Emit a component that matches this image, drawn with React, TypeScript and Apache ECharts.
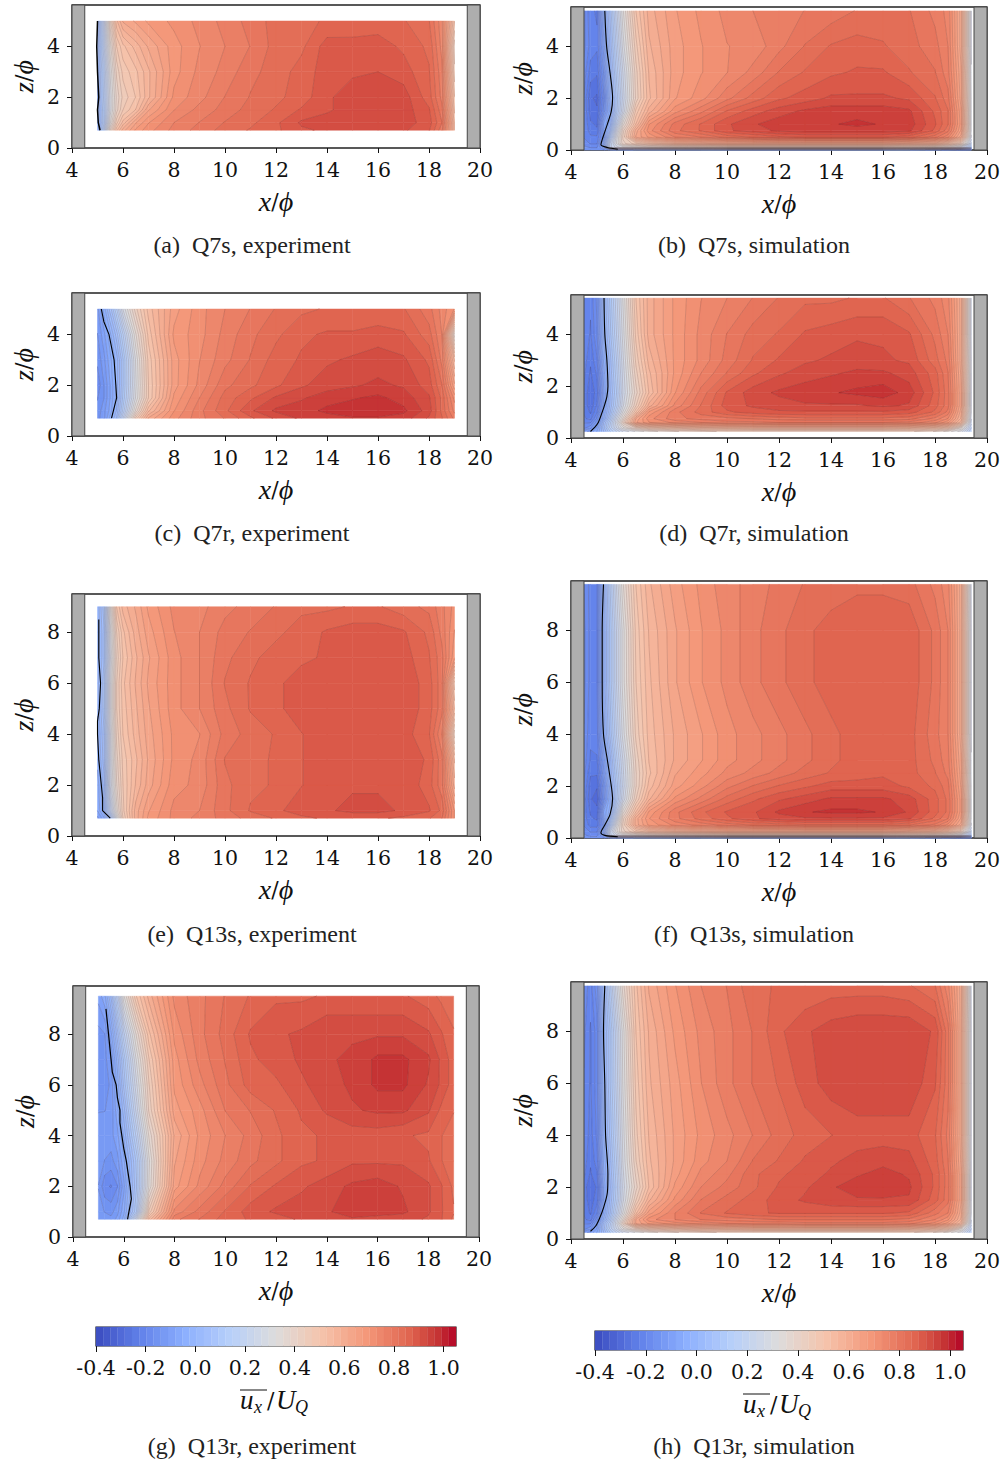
import React, { useEffect, useRef } from "react";
import * as echarts from "echarts";

// x stations of the measured / simulated fields
const expX = [5,5.25,5.5,5.75,6,6.5,7,8,9,10,11,12,13,14,15,16,17,18,18.5,19];
const simX = [4.5,4.75,5,5.25,5.5,5.75,6,6.5,7,8,9,10,11,12,13,14,15,16,17,18,18.5,19,19.4];

const q7sExpZ = [0.7,1,1.5,2,3,4,5];
const q7sExp = [
[-2,15,38,52,60,68,72,77,80,83,85,87,90,91,93,93,91,88,80,55],
[-2,12,32,46,54,64,70,76,79,82,84,87,91,92,93,93,92,89,82,55],
[-1,12,28,40,47,53,64,73,77,80,83,85,88,90,92,93,92,88,80,52],
[0,13,28,39,45,50,58,71,75,79,82,84,86,90,92,92.5,92,86,78,50],
[0,14,30,42,48,52,58,69,74,77,81,83,86,89,90,90.5,89,85,77,45],
[1,17,34,47,52,57,62,69,73,76,79,83,84,89,88.5,89,87,84,75,42],
[0,19,40,55,62,65,68,71,74,77,80,83,84,85,86,86,85,82,74,50],
];
const q7rExpZ = [0.7,1,1.5,2,3,4,5];
const q7rExp = [
[-15,-12,-4,4,18,45,62,72,78,82,87,91,94,95,96,96,95,90,85,78],
[-16,-12,-7,1,13,36,55,70,78,84,90,94,95,97,98,98,97,92,84,75],
[-17,-14,-8,-1,10,30,47,68,76,83,87,91,93,95,96,97,95,91,84,72],
[-19,-14,-8,-1,9,29,47,66,74,81,84,87,90,92,93,94,93,89,82,65],
[-16,-12,-6,-1,9,30,48,66,73,78,82,86,88,90,91,92,91,87,78,55],
[-14,-9,-3,5,15,35,51,68,72,77,81,84,87,88,88,89,88,83,76,36],
[-12,-4,5,15,27,43,54,66,72,76,79,82,84,85,85,85,85,80,75,70],
];
const q13sExpZ = [0.7,1,2,3,4,5,6,7,8,9];
const q13sExp = [
[-12,-6,8,28,44,60,68,74,77,80,83,85,87,88,88,88,87,85,82,70],
[-8,0,18,34,46,60,67,74,76,81,85,87,89,90,91.5,91.5,90,88,84,70],
[-7,2,24,38,47,56,63,72,74,81,84,85,87.5,89,90,90,90,86,80,60],
[-4,5,25,40,48,55,62,71,74,82,84,85,87.5,89,90,90,90,87,80,55],
[-3,6,26,42,50,57,63,71,73,80,83,85,87.5,89,90,90,89,85,76,42],
[-2,8,28,44,51,58,64,72,76,81,85,87,89,90,90,90,90,86,80,55],
[-1,8,28,44,52,59,65,72,76,82,85,87,89,90,90,90,90,86,80,48],
[-2,6,26,42,50,58,64,72,76,81,84,86,87,88,90,90,89,85,80,68],
[-2,6,28,44,52,60,66,73,76,80,82,84,86,88,89,89,88,84,78,70],
[-2,8,32,50,57,62,68,74,75,78,80,82,84,84,85,85,83,81,77,72],
];
const q13rExpZ = [0.7,1,2,3,4,5,6,7,8,9.5];
const q13rExp = [
[-12,-13,-13,-10,-4,24,54,78,82,86,88,89,91,92,93,92,92,90,88,84],
[-13,-14,-15,-12,-6,12,45,74,80,85,89,91,92,93,95,95,94,91,88,85],
[-14,-19,-20,-17,-9,9,33,66,74,80,85,88,90,92,94,95,93,91,88,84],
[-12,-14,-15,-12,-6,10,32,64,72,77,81,84,87,88,90,90,90,88,85,82],
[-13,-12,-12,-9,-2,16,36,62,71,76,80,84,87,88,89,89,88,87,85,82],
[-14,-14,-13,-6,2,22,42,66,72,79,82,85,88,91,93,94,94,91,87,85],
[-15,-16,-13,-4,7,26,44,68,75,81,86,87,90,92,94,97,97,93,90,86],
[-15,-15,-11,-1,10,30,47,69,77,82,87,89,91,93,94,97,97,94,90,86],
[-15,-14,-6,5,17,36,52,71,78,83,88,90,91,93,93,93,93,91,88,85],
[-10,-6,4,17,32,50,60,74,78,82,85,87,87,88,88,88,88,86,84,83],
];
const q7sSimZ = [0,0.1,0.25,0.5,0.75,1,1.5,2,3,4,5.37];
const q7sSim = [
[-15,-15,-15,-15,-10,-8,-6,-5,-5,-5,-5,-5,-5,-5,-5,-5,-5,-5,-5,-10,-12,-15,-15],
[-16,-17,-17,-10,20,25,28,30,32,34,35,36,36,36,36,36,36,36,35,33,30,24,10],
[-18,-20,-20,-5,18,30,40,46,50,56,58,60,60,60,60,60,60,60,58,56,50,42,20],
[-20,-22,-22,-12,10,28,42,62,68,76,79,83,85,87,88,88,88,88,86,80,74,60,26],
[-20,-24,-25,-10,4,24,40,60,72,81,85,90,92,94,95,95,95,95,94,87,80,64,28],
[-20,-25,-26,-8,-1,18,34,53,70,80,85,90,93,95,96,96,97,96,95,88,82,66,28],
[-20,-27,-28,-16,-4,11,24,48,60,72,78,85,89,92,94,95,95,95,94,87,82,65,28],
[-20,-28,-29,-18,-1,10,22,42,55,67,72,78,83,87,89,91,91,91,90,85,80,63,28],
[-18,-24,-25,-14,1,13,24,43,56,66,70,73,77,82,85,87,88,88,85,82,77,62,27],
[-16,-21,-22,-10,4,16,28,46,58,66,70,73,74,78,82,85,86,85,83,80,76,60,26],
[-16,-22,-23,-5,7,20,32,50,60,67,71,74,76,77,79,80,82,83,82,78,75,60,26],
];
const q7rSimZ = [0.25,0.4,0.6,0.75,1,1.25,1.75,2.5,3,4,5.4];
const q7rSim = [
[-12,-10,-5,3,12,18,24,30,34,38,40,42,42,42,42,42,42,42,42,38,34,28,15],
[-18,-15,-8,5,16,24,32,42,48,52,55,56,57,57,57,57,57,57,56,52,48,36,18],
[-20,-20,-12,3,14,26,40,64,70,74,76,78,78,79,79,79,79,79,78,74,68,54,22],
[-22,-24,-16,-3,10,24,36,62,72,78,80,81,82,83,84,84,84,84,83,78,73,58,24],
[-23,-26,-20,-5,6,18,30,50,68,78,83,87,89,90,90,90,90,90,89,84,78,60,26],
[-23,-28,-22,-8,4,14,26,44,60,74,82,89,91,92,93,93,93,94,93,86,80,62,26],
[-23,-28,-24,-9,3,12,24,40,53,70,80,88,92,94,95,96,97,98,95,87,80,62,26],
[-22,-26,-22,-7,4,14,25,43,55,68,76,82,87,90,92,93,94,94,92,86,79,61,26],
[-21,-25,-20,-5,5,15,26,45,57,68,74,80,85,88,90,91,92,91,90,83,78,60,26],
[-20,-23,-17,-2,8,18,28,48,60,68,74,79,83,85,88,89,90,90,88,81,76,60,25],
[-20,-22,-16,0,10,20,30,50,60,68,73,76,79,82,84,84,85,85,82,78,74,60,25],
];
const q13sSimZ = [0,0.1,0.25,0.5,0.75,1,1.5,2,2.5,3,4,6,8,9.77];
const q13sSim = [
[-15,-15,-15,-15,-10,-8,-6,-5,-5,-5,-5,-5,-5,-5,-5,-5,-5,-5,-5,-10,-12,-15,-15],
[-16,-18,-18,-10,20,25,28,30,32,34,35,36,36,36,36,36,36,36,35,33,30,24,10],
[-18,-20,-20,-4,20,32,40,48,52,56,58,60,60,60,60,60,60,60,58,55,50,42,20],
[-20,-24,-24,-12,10,28,42,60,68,74,77,80,82,83,84,84,84,84,82,78,72,60,26],
[-21,-25,-26,-10,4,22,40,60,70,78,83,87,90,92,93,93,93,93,91,84,79,64,28],
[-21,-26,-27,-8,-1,17,34,53,68,78,84,88,90,94,96,97,97,96,93,86,81,66,28],
[-21,-28,-30,-16,-3,11,24,44,58,71,77,83,87,90,92,94,94,94,92,86,81,66,28],
[-20,-27,-28,-15,-1,10,22,41,54,66,72,78,82,85,87,89,89,89,87,84,80,64,28],
[-19,-25,-25,-12,1,12,23,41,52,64,69,74,77,80,83,85,86,87,86,82,78,63,27],
[-18,-23,-23,-10,2,14,24,42,53,62,67,72,75,78,81,84,86,86,86,81,77,62,27],
[-17,-22,-21,-5,7,18,28,45,54,62,67,72,75,78,81,84,86,86,86,80,76,60,26],
[-16,-21,-20,-2,10,21,31,47,55,64,70,74,78,81,84,86,87,87,87,81,76,60,26],
[-16,-21,-20,-2,10,21,31,48,56,64,70,74,78,81,84,86,87,87,87,81,76,60,26],
[-17,-21,-20,-1,12,24,35,50,58,66,71,75,77,80,82,83,84,84,83,78,74,60,25],
];
const q13rSimZ = [0.25,0.4,0.6,0.75,1,1.5,2,2.5,3,4,6,8,9.75];
const q13rSim = [
[-12,-10,-5,3,12,18,24,30,34,38,40,42,42,42,42,42,42,42,42,38,34,28,15],
[-18,-15,-8,5,16,24,32,42,48,52,55,56,57,57,57,57,57,57,56,52,48,36,18],
[-20,-20,-10,4,14,26,40,62,68,72,74,76,77,77,78,78,78,78,77,72,66,54,22],
[-22,-24,-15,-2,10,24,36,62,72,76,79,80,81,82,82,82,82,82,81,76,71,58,24],
[-23,-26,-20,-5,6,18,30,52,66,76,82,85,87,88,88,88,88,88,87,80,76,60,26],
[-24,-27,-24,-8,4,14,26,44,58,71,79,83,86,89,91,92.5,93,93,93,86,80,62,26],
[-24,-28,-25,-8,3,13,25,40,53,68,76,80,84,88,90,93,95,95.5,94,87,80,62,26],
[-22,-26,-23,-6,4,14,26,42,54,66,74,78,84,87,89,91,93,94.5,93,87,80,62,26],
[-21,-25,-21,-5,5,15,27,44,55,65,72,76,82,85,88,90,91.5,92.5,91.5,86,79,61,26],
[-20,-24,-19,-3,7,17,28,46,56,65,71,75,79,83,86,87.5,89,89,89,85,78,60,26],
[-20,-23,-18,-1,9,19,30,48,58,66,73,78,82,85,89,92,93,93,93,88,80,60,26],
[-19,-23,-18,-1,9,20,31,50,59,68,74,78,82,87,90,92,93,93,93,90,80,60,26],
[-18,-21,-15,2,14,26,37,52,62,70,76,79,84,85,85,86,86,86,85,82,74,60,25],
];

// zero-velocity lines [x/phi, z/phi]
const q7sExpLine = [[5.1,0.7],[5.03,1],[5,1.5],[5.05,2],[5,3],[4.97,4],[5,5]];
const q7sSimLine = [[5.8,0.03],[5.4,0.1],[5.15,0.2],[5.2,0.4],[5.3,0.7],[5.4,1],[5.55,1.5],[5.6,2],[5.5,3],[5.37,4],[5.3,5.37]];
const q7rExpLine = [[5.55,0.7],[5.75,1.5],[5.72,2],[5.65,3],[5.45,4],[5.25,4.5],[5.15,5]];
const q7rSimLine = [[4.75,0.25],[4.9,0.4],[5.05,0.6],[5.2,1],[5.3,1.3],[5.38,1.6],[5.42,2],[5.38,3],[5.3,4],[5.27,5.4]];
const q13sExpLine = [[5.5,0.7],[5.2,1],[5.2,1.5],[5.15,2],[5.05,3],[5,4],[5,4.5],[5.07,5],[5.12,6],[5.05,7],[5.05,8],[5.05,8.5]];
const q13sSimLine = [[5.8,0.05],[5.3,0.1],[5.15,0.2],[5.3,0.5],[5.5,0.9],[5.6,1.5],[5.55,2],[5.4,3],[5.25,4],[5.2,6],[5.2,8],[5.25,9.77]];
const q13rExpLine = [[6.15,0.7],[6.3,1.5],[6.25,2],[6.1,3],[6,3.5],[5.85,4.5],[5.85,5],[5.75,5.5],[5.7,6],[5.55,6.5],[5.5,7],[5.4,8],[5.3,9]];
const q13rSimLine = [[4.75,0.3],[4.95,0.5],[5.1,0.8],[5.25,1.2],[5.4,1.8],[5.42,2.5],[5.33,4],[5.3,6],[5.25,8],[5.3,9.75]];

const colorbarTicks = [-0.4,-0.2,0,0.2,0.4,0.6,0.8,1];
const captions = ["(a)  Q7s, experiment","(b)  Q7s, simulation","(c)  Q7r, experiment","(d)  Q7r, simulation","(e)  Q13s, experiment","(f)  Q13s, simulation","(g)  Q13r, experiment","(h)  Q13r, simulation"];

const VMIN = -0.4, VMAX = 1.05, NBANDS = 50;
const levels: number[] = [];
for (let k = 0; k <= NBANDS; k++) levels.push(VMIN + ((VMAX - VMIN) * k) / NBANDS);

const anchors: [number, number[]][] = [
  [0,[59,76,192]],[0.125,[98,130,234]],[0.25,[141,176,254]],[0.375,[184,208,249]],[0.5,[221,220,220]],
  [0.625,[245,196,172]],[0.75,[244,152,122]],[0.875,[223,99,78]],[0.95,[197,51,52]],[1,[180,4,38]],
];
function colorOf(v: number) {
  const t = Math.min(1, Math.max(0, (v - VMIN) / (VMAX - VMIN)));
  for (let i = 1; i < anchors.length; i++) {
    if (t <= anchors[i][0]) {
      const [t0, c0] = anchors[i - 1];
      const [t1, c1] = anchors[i];
      const f = (t - t0) / (t1 - t0);
      return `rgb(${c0.map((c, j) => Math.round(c + (c1[j] - c) * f)).join(",")})`;
    }
  }
  return "rgb(180,4,38)";
}

function clip(poly: number[][], lev: number, above: boolean) {
  const out: number[][] = [];
  for (let i = 0; i < poly.length; i++) {
    const a = poly[i], b = poly[(i + 1) % poly.length];
    const ia = above ? a[2] >= lev : a[2] <= lev;
    const ib = above ? b[2] >= lev : b[2] <= lev;
    if (ia) out.push(a);
    if (ia !== ib) {
      const f = (lev - a[2]) / (b[2] - a[2]);
      out.push([a[0] + (b[0] - a[0]) * f, a[1] + (b[1] - a[1]) * f, lev]);
    }
  }
  return out;
}

function cellsOf(xs: number[], zs: number[], rows: number[][]) {
  const cells: number[][] = [];
  for (let j = 0; j + 1 < zs.length; j++)
    for (let i = 0; i + 1 < xs.length; i++)
      cells.push([xs[i], zs[j], xs[i + 1], zs[j + 1], rows[j][i] / 100, rows[j][i + 1] / 100, rows[j + 1][i] / 100, rows[j + 1][i + 1] / 100]);
  return cells;
}
function quadOf(api: any) {
  const x0 = api.value(0), z0 = api.value(1), x1 = api.value(2), z1 = api.value(3);
  return [[x0, z0, api.value(4)], [x1, z0, api.value(5)], [x1, z1, api.value(7)], [x0, z1, api.value(6)]];
}
function renderFill(_: any, api: any) {
  const q = quadOf(api);
  const vs = q.map((p) => p[2]);
  const mn = Math.min(...vs), mx = Math.max(...vs);
  const children: any[] = [];
  for (let k = 0; k < NBANDS; k++) {
    const lo = levels[k], hi = levels[k + 1];
    if (mx < lo || mn > hi) continue;
    const poly = clip(clip(q, lo, true), hi, false);
    if (poly.length < 3) continue;
    const fill = colorOf((lo + hi) / 2);
    children.push({ type: "polygon", silent: true, shape: { points: poly.map((p) => api.coord([p[0], p[1]])) }, style: { fill, stroke: fill, lineWidth: 0.5 } });
  }
  return { type: "group", children };
}
function renderContour(_: any, api: any) {
  const q = quadOf(api);
  const vs = q.map((p) => p[2]);
  const mn = Math.min(...vs), mx = Math.max(...vs);
  const children: any[] = [];
  for (let k = 1; k < NBANDS; k++) {
    const lev = levels[k];
    if (mx < lev || mn > lev) continue;
    const pts: number[][] = [];
    for (let i = 0; i < 4; i++) {
      const a = q[i], b = q[(i + 1) % 4];
      if (a[2] >= lev !== b[2] >= lev) {
        const f = (lev - a[2]) / (b[2] - a[2]);
        pts.push(api.coord([a[0] + (b[0] - a[0]) * f, a[1] + (b[1] - a[1]) * f]));
      }
    }
    for (let i = 0; i + 1 < pts.length; i += 2)
      children.push({ type: "line", silent: true, shape: { x1: pts[i][0], y1: pts[i][1], x2: pts[i + 1][0], y2: pts[i + 1][1] }, style: { stroke: "rgba(60,30,30,0.28)", lineWidth: 0.6 } });
  }
  return { type: "group", children };
}
function renderWall(_: any, api: any) {
  const a = api.coord([api.value(0), api.value(2)]);
  const b = api.coord([api.value(1), api.value(3)]);
  return { type: "rect", silent: true, shape: { x: a[0], y: b[1], width: b[0] - a[0], height: a[1] - b[1] }, style: { fill: "#aeaeae", stroke: "#444", lineWidth: 1 } };
}
function renderBand(_: any, api: any) {
  const a = api.coord([api.value(0), 0]);
  const b = api.coord([api.value(1), 1]);
  const fill = colorOf(api.value(2));
  return { type: "rect", silent: true, shape: { x: a[0], y: b[1], width: b[0] - a[0], height: a[1] - b[1] }, style: { fill, stroke: fill, lineWidth: 0.3 } };
}

const SERIF = "DejaVu Serif";
const CAP = "Liberation Serif";
const tickStyle = { fontFamily: SERIF, fontSize: 20.5, color: "#111" };

const panels = [
  { left: 72, top: 5, w: 408, h: 143, ymax: 5.63, yt: [0,2,4], xs: expX, zs: q7sExpZ, rows: q7sExp, line: q7sExpLine, smooth: false, lw: 1.5 },
  { left: 571, top: 7, w: 416, h: 143, ymax: 5.52, yt: [0,2,4], xs: simX, zs: q7sSimZ, rows: q7sSim, line: q7sSimLine, smooth: true, lw: 1.1 },
  { left: 72, top: 293, w: 408, h: 143, ymax: 5.63, yt: [0,2,4], xs: expX, zs: q7rExpZ, rows: q7rExp, line: q7rExpLine, smooth: false, lw: 1.1 },
  { left: 571, top: 295, w: 416, h: 143, ymax: 5.52, yt: [0,2,4], xs: simX, zs: q7rSimZ, rows: q7rSim, line: q7rSimLine, smooth: true, lw: 1.1 },
  { left: 72, top: 594, w: 408, h: 242, ymax: 9.5, yt: [0,2,4,6,8], xs: expX, zs: q13sExpZ, rows: q13sExp, line: q13sExpLine, smooth: false, lw: 1.1 },
  { left: 571, top: 581, w: 416, h: 257, ymax: 9.9, yt: [0,2,4,6,8], xs: simX, zs: q13sSimZ, rows: q13sSim, line: q13sSimLine, smooth: true, lw: 1.1 },
  { left: 73, top: 986, w: 406, h: 251, ymax: 9.9, yt: [0,2,4,6,8], xs: expX, zs: q13rExpZ, rows: q13rExp, line: q13rExpLine, smooth: false, lw: 1.2 },
  { left: 571, top: 982, w: 416, h: 257, ymax: 9.9, yt: [0,2,4,6,8], xs: simX, zs: q13rSimZ, rows: q13rSim, line: q13rSimLine, smooth: true, lw: 1.1 },
];
const capPos = [[252,245],[754,245],[252,533],[754,533],[252,934],[754,934],[252,1446],[754,1446]];
const bars = [{ left: 96, top: 1327, w: 360, h: 19, dx: 0, dy: 0 }, { left: 595, top: 1331, w: 368, h: 19, dx: 503, dy: 4 }];

function buildOption() {
  const grid: any[] = [], xAxis: any[] = [], yAxis: any[] = [], series: any[] = [], graphic: any[] = [];
  const richItalic = { i: { fontStyle: "italic", fontFamily: CAP, fontSize: 28, color: "#111" }, n: { fontFamily: SERIF, fontSize: 22, color: "#111" } };
  panels.forEach((p, idx) => {
    grid.push({ left: p.left, top: p.top, width: p.w, height: p.h, show: true, borderColor: "#222", borderWidth: 1.3, backgroundColor: "#fff" });
    xAxis.push({
      gridIndex: idx, type: "value", min: 4, max: 20, interval: 2, splitLine: { show: false },
      axisLine: { show: false }, axisTick: { show: true, length: 5, lineStyle: { color: "#111", width: 1 } },
      axisLabel: { ...tickStyle, margin: 11, hideOverlap: false, showMinLabel: true, showMaxLabel: true },
      name: "{i|x}{n|/}{i|ϕ}", nameLocation: "middle", nameGap: 39, nameTextStyle: { rich: richItalic },
    });
    yAxis.push({
      gridIndex: idx, type: "value", min: 0, max: p.ymax, splitLine: { show: false },
      axisLine: { show: false },
      axisTick: { show: true, length: 5, customValues: p.yt, lineStyle: { color: "#111", width: 1 } },
      axisLabel: { ...tickStyle, margin: 12, customValues: p.yt },
      name: "{i|z}{n|/}{i|ϕ}", nameLocation: "middle", nameGap: 35, nameTextStyle: { rich: richItalic },
    });
    const cells = cellsOf(p.xs, p.zs, p.rows);
    const common = { type: "custom", coordinateSystem: "cartesian2d", xAxisIndex: idx, yAxisIndex: idx, silent: true, animation: false, clip: false, progressive: 0, encode: { x: [0, 2], y: [1, 3] } };
    series.push({ ...common, renderItem: renderFill, data: cells, z: 2 });
    series.push({ ...common, renderItem: renderContour, data: cells, z: 3 });
    series.push({ ...common, renderItem: renderWall, z: 4, encode: { x: [0, 1], y: [2, 3] }, data: [[4, 4.5, 0, p.ymax], [19.5, 20, 0, p.ymax]] });
    series.push({ type: "line", xAxisIndex: idx, yAxisIndex: idx, data: p.line, symbol: "none", smooth: p.smooth ? 0.3 : false, silent: true, z: 5, animation: false, clip: false, lineStyle: { color: "#000", width: p.lw } });
    graphic.push({ type: "text", silent: true, x: capPos[idx][0], y: capPos[idx][1], style: { text: captions[idx], font: `24px "${CAP}"`, align: "center", verticalAlign: "middle", fill: "#222" } });
  });
  const bandData: number[][] = [];
  for (let k = 0; k < NBANDS; k++) bandData.push([levels[k], levels[k + 1], (levels[k] + levels[k + 1]) / 2]);
  bars.forEach((b, n) => {
    const idx = panels.length + n;
    grid.push({ left: b.left, top: b.top, width: b.w, height: b.h, show: true, borderColor: "#222", borderWidth: 1.2 });
    xAxis.push({
      gridIndex: idx, type: "value", min: VMIN, max: VMAX, splitLine: { show: false }, axisLine: { show: false },
      axisTick: { show: true, length: 6, customValues: colorbarTicks, lineStyle: { color: "#111", width: 1 } },
      axisLabel: { ...tickStyle, margin: 11, customValues: colorbarTicks, formatter: (v: number) => v.toFixed(1) },
    });
    yAxis.push({ gridIndex: idx, type: "value", min: 0, max: 1, show: false });
    series.push({ type: "custom", coordinateSystem: "cartesian2d", xAxisIndex: idx, yAxisIndex: idx, silent: true, animation: false, progressive: 0, renderItem: renderBand, encode: { x: [0, 1] }, data: bandData, z: 2 });
    const t = (txt: string, x: number, y: number, size: number, italic: boolean) => ({
      type: "text", silent: true, x: x + b.dx, y: y + b.dy,
      style: { text: txt, font: `${italic ? "italic " : ""}${size}px "${italic ? CAP : SERIF}"`, align: "left", verticalAlign: "middle", fill: "#111" },
    });
    graphic.push(t("u", 240, 1400, 27, true), t("x", 254, 1407, 18, true), t("/", 267, 1400, 22, false), t("U", 276, 1400, 27, true), t("Q", 295, 1407, 18, true));
    graphic.push({ type: "line", silent: true, shape: { x1: 240 + b.dx, y1: 1390 + b.dy, x2: 267 + b.dx, y2: 1390 + b.dy }, style: { stroke: "#111", lineWidth: 1 } });
  });
  return { animation: false, backgroundColor: "#fff", grid, xAxis, yAxis, series, graphic };
}

export default function App() {
  const ref = useRef<HTMLDivElement>(null);
  useEffect(() => {
    const chart = echarts.init(ref.current!, undefined, { renderer: "svg" });
    chart.setOption(buildOption() as any);
    return () => chart.dispose();
  }, []);
  return <div ref={ref} style={{ position: "absolute", left: 0, top: 0, width: 1004, height: 1464 }} />;
}
